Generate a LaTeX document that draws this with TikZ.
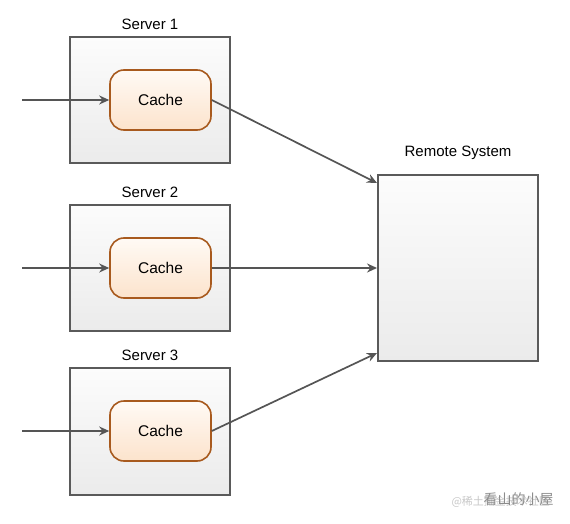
\documentclass[tikz,border=0pt]{standalone}
\usepackage{fontspec}
\setmainfont{Liberation Sans}
\newfontfamily\cjk{Noto Sans CJK SC}
\usetikzlibrary{arrows.meta,positioning}
\definecolor{boxline}{HTML}{5A5A5A}
\definecolor{boxtop}{HTML}{FCFCFC}
\definecolor{boxbot}{HTML}{EBEBEB}
\definecolor{cacheline}{HTML}{A85A1E}
\definecolor{cachetop}{HTML}{FFFAF5}
\definecolor{cachebot}{HTML}{FCE3CC}
\definecolor{arrowcol}{HTML}{555555}
\begin{document}
\begin{tikzpicture}[x=1pt,y=-1pt,
  serverbox/.style={draw=boxline,line width=1.9pt,top color=boxtop,bottom color=boxbot,minimum width=160pt,minimum height=126pt,inner sep=0pt},
  cachebox/.style={draw=cacheline,line width=1.6pt,rounded corners=14pt,top color=cachetop,bottom color=cachebot,minimum width=101pt,minimum height=60pt,inner sep=0pt,font=\fontsize{15.5}{17}\selectfont},
  lbl/.style={font=\fontsize{15}{17}\selectfont,inner sep=0pt},
  flow/.style={draw=arrowcol,line width=1.7pt,-{Stealth[length=10pt,width=9pt]}}
]
\useasboundingbox (0,0) rectangle (570,524);
% servers
\node[serverbox] (s1) at (150,100) {};
\node[serverbox] (s2) at (150,268) {};
\node[serverbox,minimum height=127pt] (s3) at (150,431.5) {};
\node[lbl] (l1) at (150,24) {Server 1};
\node[lbl] (l2) at (150,192) {Server 2};
\node[lbl] (l3) at (150,355) {Server 3};
% caches
\node[cachebox] (c1) at (160.5,100) {Cache};
\node[cachebox] (c2) at (160.5,268) {Cache};
\node[cachebox] (c3) at (160.5,431) {Cache};
% remote
\node[serverbox,minimum width=160pt,minimum height=186pt] (r) at (458,268) {};
\node[lbl] (lr) at (458,153) {Remote System};
% inputs
\coordinate (i1) at (22,100);
\coordinate (i2) at (22,268);
\coordinate (i3) at (22,431);
\draw[flow] (i1) -- (c1.west);
\draw[flow] (i2) -- (c2.west);
\draw[flow] (i3) -- (c3.west);
% outputs
\coordinate (r1) at (377,183);
\coordinate (r3) at (377,353);
\draw[flow] (c1.east) -- (r1);
\draw[flow] (c2.east) -- (r.west);
\draw[flow] (c3.east) -- (r3);
% watermark
\node[text=black!22,font=\cjk\fontsize{11}{12}\selectfont,anchor=west] (wm1) at (448,502) {@稀土掘金技术社区};
\node[text=black!45,font=\cjk\fontsize{14}{16}\selectfont,anchor=west] (wm2) at (480,499) {看山的小屋};
\end{tikzpicture}
\end{document}
